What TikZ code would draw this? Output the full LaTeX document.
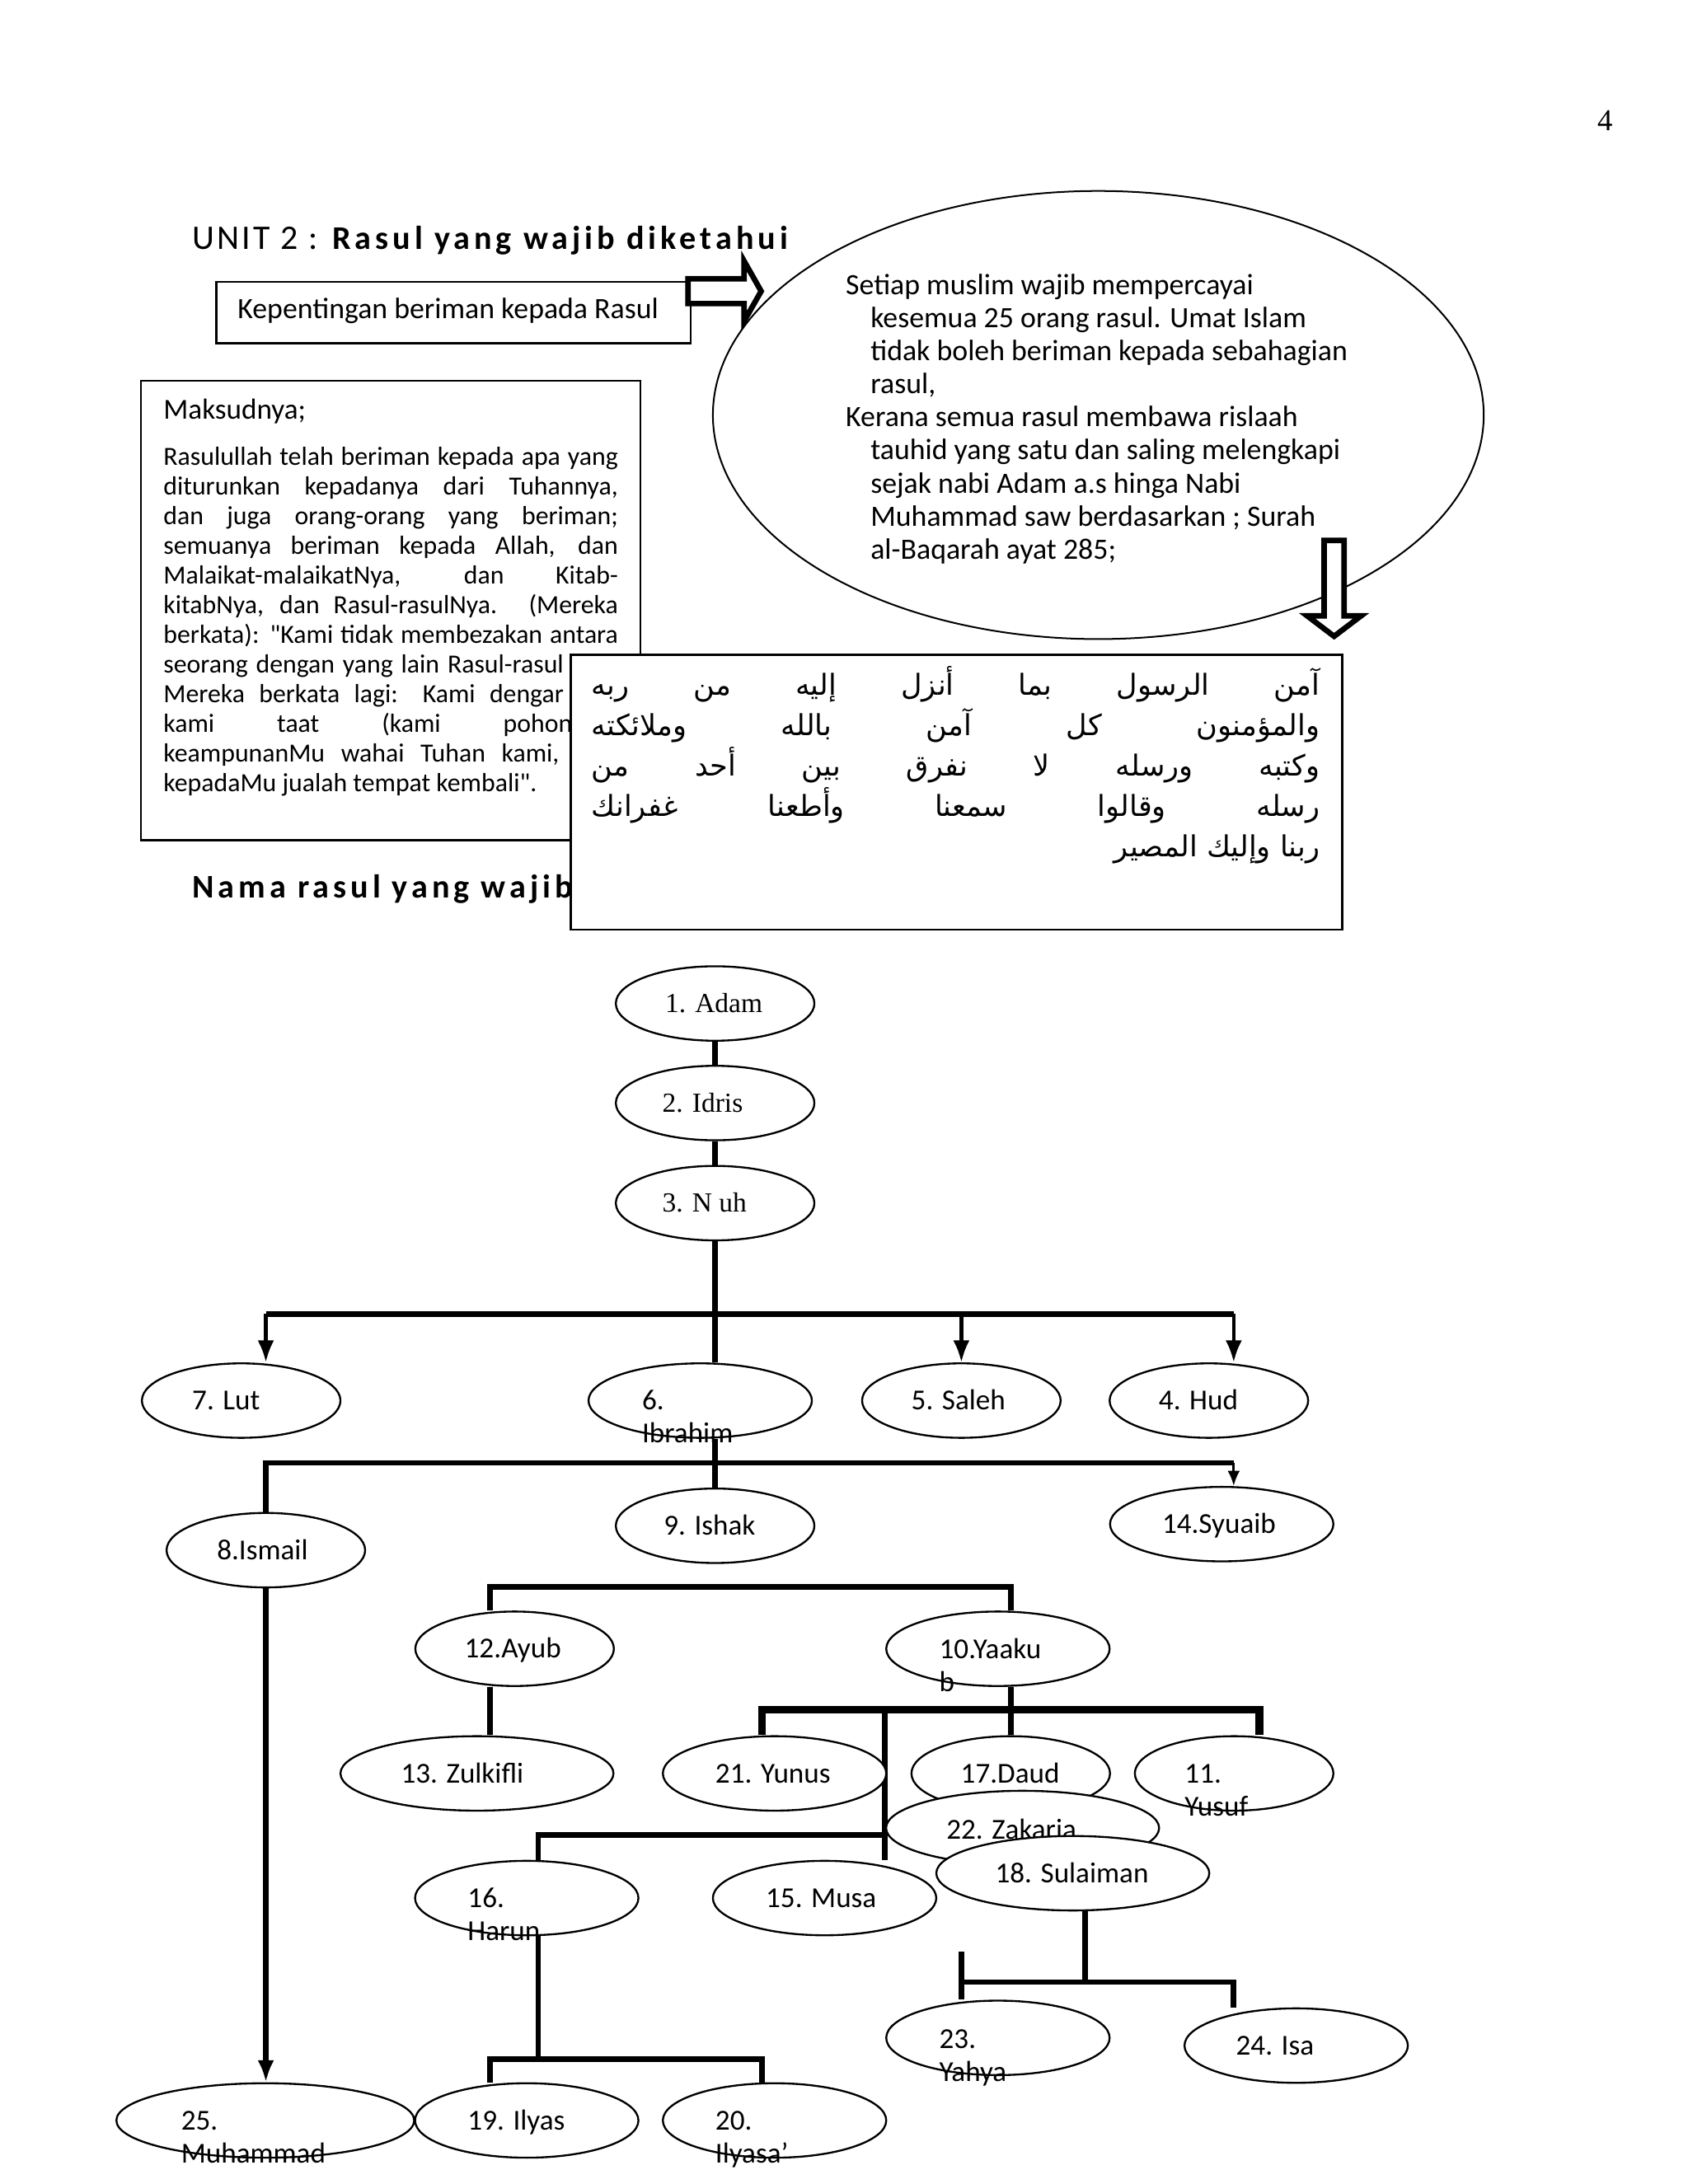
\documentclass[tikz,border=0pt]{standalone}
\usepackage{fontspec}
\setmainfont{Carlito}
\newfontfamily\bodyfont{Carlito}
\newfontfamily\seriffont{Liberation Serif}
\newfontfamily\spacedfont[LetterSpace=12.5]{Carlito}
\newfontfamily\unitfont[LetterSpace=8]{Carlito}
\newfontfamily\arabicfont[Script=Arabic]{DejaVu Sans}
\TeXXeTstate=1
\usetikzlibrary{arrows.meta,shapes.geometric,backgrounds}
\newcommand{\linesbox}[1]{\vtop{\lineskiplimit=-\maxdimen\lineskip=0pt\halign{##\hfil\cr#1\crcr}}}
\newcommand{\jl}[1]{\makebox[164.8pt][s]{#1}}
\newcommand{\ja}[1]{\makebox[264pt][s]{\beginR #1\endR}}
\tikzset{
  pe/.style={ellipse, draw, line width=0.7pt, fill=white, inner sep=0pt, minimum height=27pt, minimum width=#1},
  lbl/.style={anchor=base west, inner sep=0pt, font=\fontsize{10.5}{12}\selectfont},
  slbl/.style={anchor=base west, inner sep=0pt, font=\seriffont\fontsize{10}{12}\selectfont},
  con/.style={line width=2pt},
  arr/.style={line width=1.3pt, -{Latex[length=8pt,width=6pt]}},
  box/.style={draw, line width=0.8pt, fill=white, inner sep=0pt, anchor=north west},
}
\begin{document}
\begin{tikzpicture}[x=0.5pt,y=-0.5pt]
\useasboundingbox (0,0) rectangle (1224,1584);

% ---------- header ----------
\node[anchor=base, inner sep=0pt, font=\seriffont\fontsize{11}{13}\selectfont] (pnum) at (1164,94.5) {4};
\node[anchor=base west, inner sep=0pt, font=\unitfont\fontsize{12.5}{14}\selectfont] (unit) at (139,180.7) {UNIT 2 :};
\node[anchor=base west, inner sep=0pt, font=\spacedfont\bfseries\fontsize{12}{14}\selectfont] (title) at (240.5,180.7) {Rasul yang wajib diketahui};

\node[box, minimum width=172pt, minimum height=22.2pt] (kbox) at (156,203.6) {};
\node[anchor=base west, inner sep=0pt, font=\fontsize{10.7}{12}\selectfont] (ktext) at (172,231) {Kepentingan beriman kepada Rasul};

\node[ellipse, draw, line width=0.6pt, inner sep=0pt, minimum width=279.5pt, minimum height=162.5pt] (bigell) at (796.5,301) {};
\node[anchor=base west, inner sep=0pt, font=\fontsize{10.7}{12}\selectfont] (etext) at (613,213.5) {\linesbox{%
Setiap muslim wajib mempercayai\cr
\hspace*{9pt}kesemua 25 orang rasul. Umat Islam\cr
\hspace*{9pt}tidak boleh beriman kepada sebahagian\cr
\hspace*{9pt}rasul,\cr
Kerana semua rasul membawa rislaah\cr
\hspace*{9pt}tauhid yang satu dan saling melengkapi\cr
\hspace*{9pt}sejak nabi Adam a.s hinga Nabi\cr
\hspace*{9pt}Muhammad saw berdasarkan ; Surah\cr
\hspace*{9pt}al-Baqarah ayat 285;}};

% hollow block arrows
\draw[line width=2pt, fill=white, line join=miter] (499,202.2) -- (539.6,202.2) -- (539.6,189.3) -- (552,211.2) -- (539.6,233) -- (539.6,220.2) -- (499,220.2) -- cycle;
\draw[line width=2pt, fill=white, line join=miter] (960.2,392) -- (974.8,392) -- (974.8,446.7) -- (987,446.7) -- (967.5,461.5) -- (948,446.7) -- (960.2,446.7) -- cycle;

% Maksudnya box
\node[box, minimum width=181.1pt, minimum height=166.55pt] (mbox) at (101.5,275.4) {};
\node[anchor=base west, inner sep=0pt, font=\fontsize{10.5}{12}\selectfont] (mhead) at (118.2,303.8) {Maksudnya;};
\node[anchor=base west, inner sep=0pt, font=\bodyfont\fontsize{9.5}{10.75}\selectfont] (mtext) at (118.2,337.4) {\linesbox{%
\jl{Rasulullah telah beriman kepada apa yang}\cr
\jl{diturunkan kepadanya dari Tuhannya,}\cr
\jl{dan juga orang-orang yang beriman;}\cr
\jl{semuanya beriman kepada Allah, dan}\cr
\jl{Malaikat-malaikatNya, dan Kitab-}\cr
\jl{kitabNya, dan Rasul-rasulNya. (Mereka}\cr
\jl{berkata): "Kami tidak membezakan antara}\cr
\jl{seorang dengan yang lain Rasul-rasul\phantom{nya".}}\cr
\jl{Mereka berkata lagi: Kami dengar \phantom{dan}}\cr
\jl{kami taat (kami pohon\phantom{kan)}}\cr
\jl{keampunanMu wahai Tuhan kami, \phantom{dan}}\cr
kepadaMu jualah tempat kembali".}};

\node[anchor=base west, inner sep=0pt, font=\spacedfont\bfseries\fontsize{12}{14}\selectfont] (nama) at (139,651.4) {Nama rasul yang wajib\hspace{-2.5pt} d};

% Arabic box
\node[box, minimum width=279.85pt, minimum height=99.7pt] (abox) at (413,474) {};
\node[anchor=base west, inner sep=0pt, font=\arabicfont\fontsize{10.5}{14.7}\selectfont] (atext) at (428.6,504) {\linesbox{%
\ja{آمن الرسول بما أنزل إليه من ربه}\cr
\ja{والمؤمنون كل آمن بالله وملائكته}\cr
\ja{وكتبه ورسله لا نفرق بين أحد من}\cr
\ja{رسله وقالوا سمعنا وأطعنا غفرانك}\cr
\makebox[264pt][r]{\beginR ربنا وإليك المصير\endR}}};

% ---------- tree ----------
\node[pe=72pt] (adam) at (518.6,727.8) {};
\node[slbl] (t-adam) at (482,734.4) {1. Adam};
\node[pe=72pt] (idris) at (518.6,800) {};
\node[slbl] (t-idris) at (480,806.6) {2. Idris};
\node[pe=72pt] (nuh) at (518.6,872.6) {};
\node[slbl] (t-nuh) at (480,879.2) {3. N uh};
\node[pe=72pt] (lut) at (174.9,1015.8) {};
\node[lbl] (t-lut) at (139,1022.6) {7. Lut};
\node[pe=81pt] (ibrahim) at (507.8,1015.8) {};
\node[lbl] (t-ibrahim) at (465.3,1022.6) {\linesbox{6.\cr Ibrahim}};
\node[pe=72pt] (saleh) at (697.2,1015.8) {};
\node[lbl] (t-saleh) at (660.5,1022.6) {5. Saleh};
\node[pe=72pt] (hud) at (876.7,1015.8) {};
\node[lbl] (t-hud) at (840,1022.6) {4. Hud};
\node[pe=72pt] (ishak) at (518.6,1106.6) {};
\node[lbl] (t-ishak) at (481,1113.4) {9. Ishak};
\node[pe=81pt] (syuaib) at (886,1105.4) {};
\node[lbl] (t-syuaib) at (842.4,1112.2) {14.Syuaib};
\node[pe=72pt] (ismail) at (192.8,1124.3) {};
\node[lbl] (t-ismail) at (157,1131.1) {8.Ismail};
\node[pe=72pt] (ayub) at (373.2,1195.8) {};
\node[lbl] (t-ayub) at (336.5,1202.6) {12.Ayub};
\node[pe=81pt] (yaakub) at (723.7,1195.8) {};
\node[lbl] (t-yaakub) at (680.8,1203) {\linesbox{10.Yaaku\cr b}};
\node[pe=99pt] (zulkifli) at (345.9,1286.2) {};
\node[lbl] (t-zulkifli) at (290.4,1293) {13. Zulkifli};
\node[pe=81pt] (yunus) at (561.7,1286.2) {};
\node[lbl] (t-yunus) at (518.4,1293) {21. Yunus};
\node[pe=72pt] (daud) at (733,1286.2) {};
\node[lbl] (t-daud) at (696.4,1293) {17.Daud};
\node[pe=72pt] (yusuf) at (895,1286.2) {};
\node[lbl] (t-yusuf) at (858.8,1293) {\linesbox{11.\cr Yusuf}};
\node[pe=99pt] (zakaria) at (741.6,1325.8) {};
\node[lbl] (t-zakaria) at (686,1333.8) {22. Zakaria};
\node[pe=81pt] (musa) at (598,1376.6) {};
\node[lbl] (t-musa) at (555,1383.4) {15. Musa};
\node[pe=81pt] (harun) at (382,1376.6) {};
\node[lbl] (t-harun) at (338.8,1383.4) {\linesbox{16.\cr Harun}};
\node[pe=99pt] (sulaiman) at (778,1358.6) {};
\node[lbl] (t-sulaiman) at (721.4,1365.4) {18. Sulaiman};
\node[pe=81pt] (yahya) at (723.7,1478) {};
\node[lbl] (t-yahya) at (680.8,1485.8) {\linesbox{23.\cr Yahya}};
\node[pe=81pt] (isa) at (940,1483.6) {};
\node[lbl] (t-isa) at (896,1490.4) {24. Isa};
\node[pe=108pt] (muhammad) at (192.4,1537.9) {};
\node[lbl] (t-muhammad) at (131,1544.7) {\linesbox{25.\cr Muhammad}};
\node[pe=81pt] (ilyas) at (382,1537.9) {};
\node[lbl] (t-ilyas) at (338.8,1544.7) {19. Ilyas};
\node[pe=81pt] (ilyasa) at (561.7,1537.9) {};
\node[lbl] (t-ilyasa) at (518.4,1544.7) {\linesbox{20.\cr Ilyasa’}};

\begin{pgfonlayer}{background}
\coordinate (b1L) at (192.8,953); \coordinate (b1S) at (697.2,953); \coordinate (b1R) at (894.7,953);
\draw[con] (adam) -- (idris);
\draw[con] (idris) -- (nuh);
\draw[con] (nuh.south) -- (nuh.south |- ibrahim.north);
\draw[con] (b1L) -- (b1R);
\draw[arr] (b1L) -- (b1L |- lut.north);
\draw[arr] (b1S) -- (saleh.north);
\draw[arr] (b1R) -- (b1R |- hud.north);
\coordinate (b2L) at (192.8,1061); \coordinate (b2R) at (894.7,1061);
\draw[con] (ishak.north |- ibrahim.south) -- (ishak.north);
\draw[con] (b2L |- ismail.north) -- (b2L) -- (b2R);
\draw[line width=0.9pt, -{Latex[length=5.5pt,width=4.5pt]}] (b2R) -- (b2R |- syuaib.north);
\draw[line width=2pt, -{Latex[length=8pt,width=6pt]}] (ismail.south) -- (ismail.south |- muhammad.north);
\coordinate (fL) at (355.2,1150.9); \coordinate (fR) at (733.1,1150.9);
\draw[con] (fL |- ayub.north) -- (fL) -- (fR) -- (fR |- yaakub.north);
\draw[con] (fL |- ayub.south) -- (fL |- zulkifli.north);
\draw[con] (daud.north |- yaakub.south) -- (daud.north);
\coordinate (tL) at (552.7,1240.1); \coordinate (tR) at (913.4,1240.1);
\coordinate (tM) at (641.7,1240.1); \coordinate (tMend) at (641.7,1348.8);
\draw[line width=2.8pt] (tL |- yunus.north) -- (tL) -- (tR) -- (tR |- yusuf.north);
\draw[con] (tM) -- (tMend);
\coordinate (hL) at (390.4,1331); \coordinate (hR) at (641.7,1331);
\draw[con] (hR) -- (hL) -- (hL |- harun.north);
\coordinate (iL) at (355.2,1493.6); \coordinate (iM) at (390.4,1493.6); \coordinate (iR) at (552.7,1493.6);
\draw[con] (hL |- harun.south) -- (iM);
\draw[con] (iL |- ilyas.north) -- (iL) -- (iR) -- (iR |- ilyasa.north);
\coordinate (sL) at (697.2,1437.5); \coordinate (sM) at (787,1437.5); \coordinate (sR) at (894.7,1437.5);
\coordinate (sTop) at (697.2,1415.6);
\draw[con] (sM |- sulaiman.south) -- (sM);
\draw[con] (sTop) -- (sL |- yahya.north);
\draw[con] (sL) -- (sR) -- (sR |- isa.north);
\end{pgfonlayer}
\end{tikzpicture}
\end{document}
